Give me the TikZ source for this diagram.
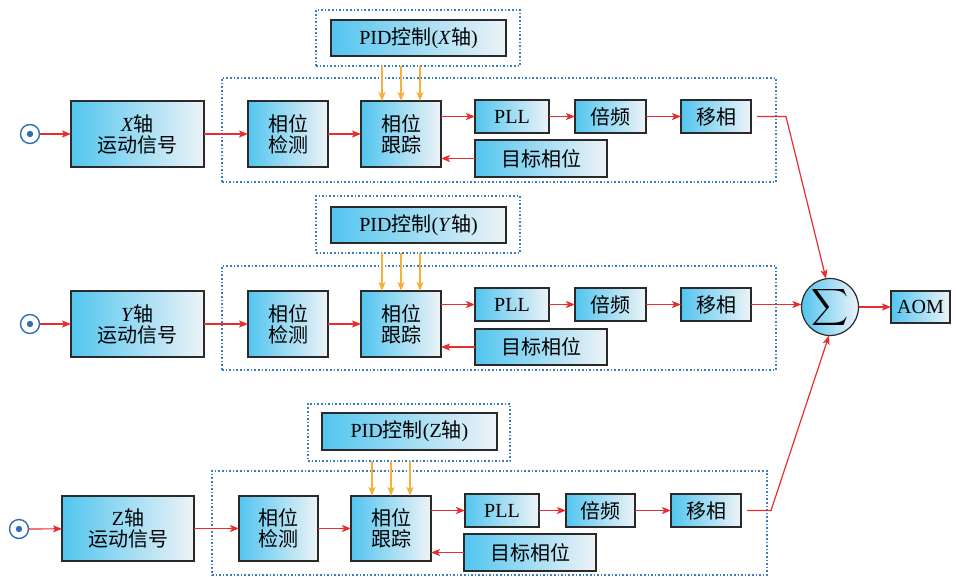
\documentclass[tikz,border=0pt]{standalone}
\usepackage{fontspec}
\setmainfont{Liberation Serif}
\newfontfamily\cjk{Noto Sans CJK SC}
\usetikzlibrary{arrows.meta}
\definecolor{boxcyan}{HTML}{52C5EF}
\definecolor{boxlight}{HTML}{EEF3F7}
\definecolor{dotblue}{HTML}{3A7DC1}
\definecolor{arred}{HTML}{E62E31}
\definecolor{aror}{HTML}{F4B23C}
\definecolor{srcblue}{HTML}{2F6FB5}
\definecolor{edgegray}{HTML}{2A2A2A}
\begin{document}
\begin{tikzpicture}[x=1pt,y=-1pt,
  blk/.style={draw=edgegray, line width=1.2pt, left color=boxcyan, right color=boxlight,
    inner sep=0pt, outer sep=0pt, align=center, font=\fontsize{20}{21}\selectfont},
  dotbox/.style={draw=dotblue, line width=1.2pt, dash pattern=on 1.6pt off 2pt,
    inner sep=0pt, outer sep=0pt},
  src/.style={circle, draw=srcblue, line width=1.4pt, minimum size=19pt, inner sep=0pt, fill=white},
  ra/.style={draw=arred, line width=1.2pt, -{Stealth[length=9pt,width=7pt,inset=2pt]}},
  oa/.style={draw=aror, line width=1.3pt, -{Stealth[length=9pt,width=7pt,inset=2pt]}}
]
\useasboundingbox (0,0) rectangle (956,576);

% ---------- dotted frames ----------
\node[dotbox, minimum width=554pt, minimum height=104pt] (outerX) at (499,130) {};
\node[dotbox, minimum width=204pt, minimum height=56pt] (pidboxX) at (418,38) {};
\node[dotbox, minimum width=554pt, minimum height=104pt] (outerY) at (499,318) {};
\node[dotbox, minimum width=204pt, minimum height=57pt] (pidboxY) at (418,224.5) {};
\node[dotbox, minimum width=555pt, minimum height=104pt] (outerZ) at (489.5,523) {};
\node[dotbox, minimum width=202pt, minimum height=57pt] (pidboxZ) at (409,432.5) {};

% ---------- X row ----------
\node[src] (srcX) at (30,134) {};
\fill[srcblue] (srcX) circle (3.2);
\node[blk, minimum width=133pt, minimum height=66pt] (axX) at (137.5,134) {\textit{X}{\cjk 轴}\\{\cjk 运动信号}};
\node[blk, minimum width=80pt, minimum height=66pt] (detX) at (288,134) {{\cjk 相位}\\{\cjk 检测}};
\node[blk, minimum width=80pt, minimum height=66pt] (trkX) at (401,134) {{\cjk 相位}\\{\cjk 跟踪}};
\node[blk, minimum width=74pt, minimum height=33pt] (pllX) at (512,116.5) {PLL};
\node[blk, minimum width=71pt, minimum height=33pt] (mulX) at (610.5,116.5) {{\cjk 倍频}};
\node[blk, minimum width=70pt, minimum height=33pt] (shfX) at (716,116.5) {{\cjk 移相}};
\node[blk, minimum width=132pt, minimum height=37pt] (tgtX) at (541,158.5) {{\cjk 目标相位}};
\node[blk, minimum width=175pt, minimum height=36pt] (pidX) at (418.5,38) {PID{\cjk 控制}(\textit{X}{\cjk 轴})};

% ---------- Y row ----------
\node[src] (srcY) at (30,324) {};
\fill[srcblue] (srcY) circle (3.2);
\node[blk, minimum width=133pt, minimum height=66pt] (axY) at (137.5,324) {\textit{Y}{\cjk 轴}\\{\cjk 运动信号}};
\node[blk, minimum width=80pt, minimum height=66pt] (detY) at (288,324) {{\cjk 相位}\\{\cjk 检测}};
\node[blk, minimum width=80pt, minimum height=66pt] (trkY) at (401,324) {{\cjk 相位}\\{\cjk 跟踪}};
\node[blk, minimum width=74pt, minimum height=33pt] (pllY) at (512,304.5) {PLL};
\node[blk, minimum width=71pt, minimum height=33pt] (mulY) at (610.5,304.5) {{\cjk 倍频}};
\node[blk, minimum width=70pt, minimum height=33pt] (shfY) at (716,304.5) {{\cjk 移相}};
\node[blk, minimum width=132pt, minimum height=36pt] (tgtY) at (541,347) {{\cjk 目标相位}};
\node[blk, minimum width=175pt, minimum height=36pt] (pidY) at (418.5,225) {PID{\cjk 控制}(\textit{Y}{\cjk 轴})};

% ---------- Z row ----------
\node[src] (srcZ) at (19,529) {};
\fill[srcblue] (srcZ) circle (3.2);
\node[blk, minimum width=132pt, minimum height=65pt] (axZ) at (128,528.5) {Z{\cjk 轴}\\{\cjk 运动信号}};
\node[blk, minimum width=79pt, minimum height=65pt] (detZ) at (278.5,528.5) {{\cjk 相位}\\{\cjk 检测}};
\node[blk, minimum width=80pt, minimum height=65pt] (trkZ) at (391,528.5) {{\cjk 相位}\\{\cjk 跟踪}};
\node[blk, minimum width=74pt, minimum height=33pt] (pllZ) at (502,510.5) {PLL};
\node[blk, minimum width=69pt, minimum height=33pt] (mulZ) at (600.5,510.5) {{\cjk 倍频}};
\node[blk, minimum width=70pt, minimum height=33pt] (shfZ) at (706,510.5) {{\cjk 移相}};
\node[blk, minimum width=132pt, minimum height=37pt] (tgtZ) at (530,552.5) {{\cjk 目标相位}};
\node[blk, minimum width=175pt, minimum height=37pt] (pidZ) at (409.5,431.5) {PID{\cjk 控制}(Z{\cjk 轴})};

% ---------- sum and AOM ----------
\node[circle, draw=edgegray, line width=1.2pt, left color=boxcyan, right color=boxlight,
  minimum size=57pt, inner sep=0pt, outer sep=0pt] (sum) at (830,307) {\resizebox{!}{27pt}{$\displaystyle\sum$}};
\node[blk, minimum width=59pt, minimum height=32pt] (aom) at (920.5,307) {AOM};

% ---------- connectors ----------
\foreach \r in {X,Y,Z}{
  \draw[ra] (src\r) -- (ax\r);
  \draw[ra] (ax\r) -- (det\r);
  \draw[ra] (det\r) -- (trk\r);
  \draw[ra] (trk\r.east |- pll\r) -- (pll\r.west);
  \draw[ra] (pll\r) -- (mul\r);
  \draw[ra] (mul\r) -- (shf\r);
  \draw[ra] (tgt\r.west) -- (tgt\r.west -| trk\r.east);
  \foreach \k in {-19,0,19}{
    \draw[oa] ([xshift=\k pt]trk\r.north |- pidbox\r.south) -- ([xshift=\k pt]trk\r.north);
  }
}
\draw[ra] ([xshift=6pt]shfX.east) -- ++(29,0) -- (sum.98);
\draw[ra] (shfY.east) -- (shfY.east -| sum.west);
\draw[ra] ([xshift=6pt]shfZ.east) -- ++(24,0) -- (sum.-92);
\draw[ra] (sum) -- (aom);
\end{tikzpicture}
\end{document}
